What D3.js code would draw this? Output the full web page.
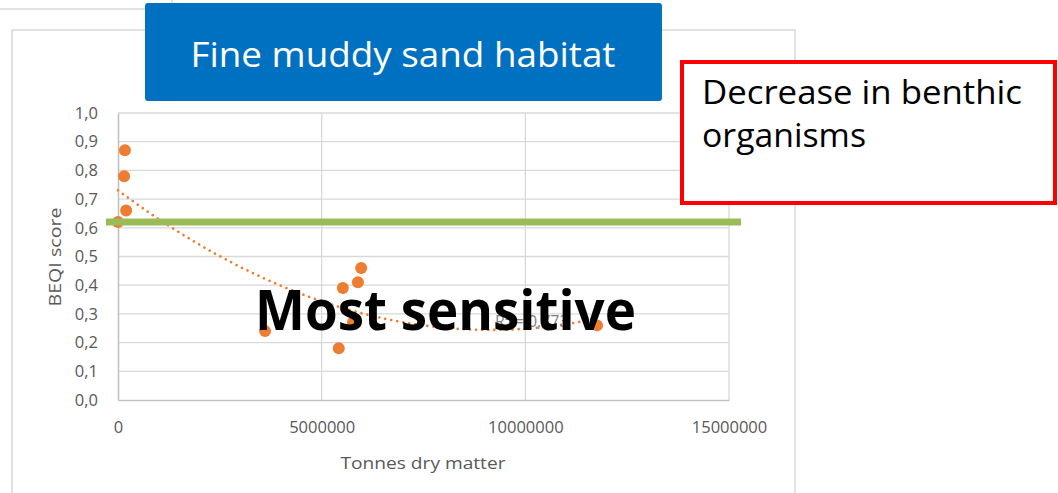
<!DOCTYPE html>
<html>
<head>
<meta charset="utf-8">
<script src="https://cdnjs.cloudflare.com/ajax/libs/d3/7.8.5/d3.min.js"></script>
<style>
  body { margin: 0; background: #fff; }
  svg { display: block; font-family: "Open Sans", "Noto Sans", sans-serif; }
</style>
</head>
<body>
<div id="chart"></div>
<script>
// values
var tonnes = [0, 150000, 170000, 200000, 3610000, 5420000, 5520000, 5770000, 5890000, 5970000, 11760000];
var beqi   = [0.62, 0.78, 0.87, 0.66, 0.24, 0.18, 0.39, 0.27, 0.41, 0.46, 0.26];
var yTicks = [0, 0.1, 0.2, 0.3, 0.4, 0.5, 0.6, 0.7, 0.8, 0.9, 1.0];
var xTicks = [0, 5000000, 10000000, 15000000];
var threshold = 0.62;
var r2Label = "R² = 0,773";

var width = 1058, height = 493;
var plot = { left: 118, right: 729, top: 113, bottom: 400 };

var svg = d3.select("#chart").append("svg")
  .attr("width", width)
  .attr("height", height);

var x = d3.scaleLinear().domain([0, 15000000]).range([plot.left, plot.right]);
var y = d3.scaleLinear().domain([0, 1]).range([plot.bottom, plot.top]);

// background frames
svg.append("path")
  .attr("d", "M0,9 H172 V0")
  .attr("fill", "none").attr("stroke", "#d9d9d9").attr("stroke-width", 1.5);
svg.append("path")
  .attr("d", "M12,493 V30 H795 V493")
  .attr("fill", "none").attr("stroke", "#d9d9d9").attr("stroke-width", 1.5);

// gridlines
svg.append("g").selectAll("line").data(yTicks.slice(1)).enter().append("line")
  .attr("x1", plot.left).attr("x2", plot.right)
  .attr("y1", function (d) { return y(d); }).attr("y2", function (d) { return y(d); })
  .attr("stroke", "#d9d9d9").attr("stroke-width", 1.3);
svg.append("g").selectAll("line").data(xTicks.slice(1)).enter().append("line")
  .attr("x1", function (d) { return x(d); }).attr("x2", function (d) { return x(d); })
  .attr("y1", plot.top).attr("y2", plot.bottom)
  .attr("stroke", "#d9d9d9").attr("stroke-width", 1.3);

// axes
var yAxis = d3.axisLeft(y).tickValues(yTicks).tickSize(0).tickPadding(20)
  .tickFormat(function (d) { return d3.format(".1f")(d).replace(".", ","); });
var gy = svg.append("g").attr("transform", "translate(" + plot.left + ",0)").call(yAxis);
gy.select(".domain").attr("stroke", "#bfbfbf").attr("stroke-width", 1.5);
gy.selectAll("text").attr("fill", "#595959").style("font-size", "16.5px")
  .style("font-family", "'Open Sans', sans-serif");

var xAxis = d3.axisBottom(x).tickValues(xTicks).tickSize(0).tickPadding(21)
  .tickFormat(d3.format("d"));
var gx = svg.append("g").attr("transform", "translate(0," + plot.bottom + ")").call(xAxis);
gx.select(".domain").attr("stroke", "#bfbfbf").attr("stroke-width", 1.5);
gx.selectAll("text").attr("fill", "#595959").style("font-size", "16.5px")
  .style("font-family", "'Open Sans', sans-serif");

// axis titles
svg.append("text")
  .attr("transform", "translate(61,257) rotate(-90)")
  .attr("text-anchor", "middle")
  .attr("fill", "#595959").style("font-size", "17px")
  .attr("textLength", 99).attr("lengthAdjust", "spacingAndGlyphs")
  .text("BEQI score");
svg.append("text")
  .attr("x", 423).attr("y", 469)
  .attr("text-anchor", "middle")
  .attr("fill", "#595959").style("font-size", "17px")
  .attr("textLength", 165).attr("lengthAdjust", "spacingAndGlyphs")
  .text("Tonnes dry matter");

// polynomial (order 2) trendline, least squares from the points
function quadFit(xs, ys) {
  var n = xs.length, s = [0, 0, 0, 0, 0], t = [0, 0, 0];
  var sc = 1e6;
  for (var i = 0; i < n; i++) {
    var xi = xs[i] / sc;
    for (var k = 0; k < 5; k++) s[k] += Math.pow(xi, k);
    for (var k2 = 0; k2 < 3; k2++) t[k2] += ys[i] * Math.pow(xi, k2);
  }
  var A = [[s[0], s[1], s[2], t[0]], [s[1], s[2], s[3], t[1]], [s[2], s[3], s[4], t[2]]];
  for (var c = 0; c < 3; c++) {
    for (var r = c + 1; r < 3; r++) {
      var f = A[r][c] / A[c][c];
      for (var j = c; j < 4; j++) A[r][j] -= f * A[c][j];
    }
  }
  var b = [0, 0, 0];
  for (var r3 = 2; r3 >= 0; r3--) {
    var sum = A[r3][3];
    for (var j3 = r3 + 1; j3 < 3; j3++) sum -= A[r3][j3] * b[j3];
    b[r3] = sum / A[r3][r3];
  }
  return function (v) { var u = v / sc; return b[0] + b[1] * u + b[2] * u * u; };
}
var fit = quadFit(tonnes, beqi);
var xMax = d3.max(tonnes);
var trendPts = d3.range(0, 101).map(function (i) { return xMax * i / 100; });
svg.append("path")
  .datum(trendPts)
  .attr("d", d3.line().x(function (d) { return x(d); }).y(function (d) { return y(fit(d)); }))
  .attr("fill", "none")
  .attr("stroke", "#ed7d31")
  .attr("stroke-width", 2.6)
  .attr("stroke-linecap", "round")
  .attr("stroke-dasharray", "0.1,6");

// points
svg.append("g").selectAll("circle").data(tonnes).enter().append("circle")
  .attr("cx", function (d) { return x(d); })
  .attr("cy", function (d, i) { return y(beqi[i]); })
  .attr("r", 6)
  .attr("fill", "#ed7d31");

// R² label
svg.append("text")
  .attr("x", 495).attr("y", 327)
  .attr("fill", "#7f7f7f").style("font-size", "16px")
  .text(r2Label);

// threshold line
svg.append("line")
  .attr("x1", 106).attr("x2", 741)
  .attr("y1", y(threshold)).attr("y2", y(threshold))
  .attr("stroke", "#9bbb59").attr("stroke-width", 7);

// title box
svg.append("rect")
  .attr("x", 145).attr("y", 3).attr("width", 517).attr("height", 98)
  .attr("rx", 3).attr("fill", "#0070c0");
svg.append("text")
  .attr("x", 403).attr("y", 67)
  .attr("text-anchor", "middle")
  .attr("fill", "#fff").style("font-size", "35px")
  .attr("textLength", 425).attr("lengthAdjust", "spacingAndGlyphs")
  .text("Fine muddy sand habitat");

// red note box
svg.append("rect")
  .attr("x", 682).attr("y", 62).attr("width", 373).attr("height", 141)
  .attr("fill", "#fff").attr("stroke", "#ff0000").attr("stroke-width", 4);
var note = svg.append("text").attr("fill", "#000").style("font-size", "33px");
note.append("tspan").attr("x", 702).attr("y", 104)
  .attr("textLength", 320).attr("lengthAdjust", "spacingAndGlyphs")
  .text("Decrease in benthic");
note.append("tspan").attr("x", 702).attr("y", 147)
  .attr("textLength", 164).attr("lengthAdjust", "spacingAndGlyphs")
  .text("organisms");

// big overlay label
svg.append("text")
  .attr("x", 255).attr("y", 330)
  .attr("fill", "#000").style("font-size", "55px").style("font-weight", "bold")
  .attr("textLength", 381).attr("lengthAdjust", "spacingAndGlyphs")
  .text("Most sensitive");
</script>
</body>
</html>
